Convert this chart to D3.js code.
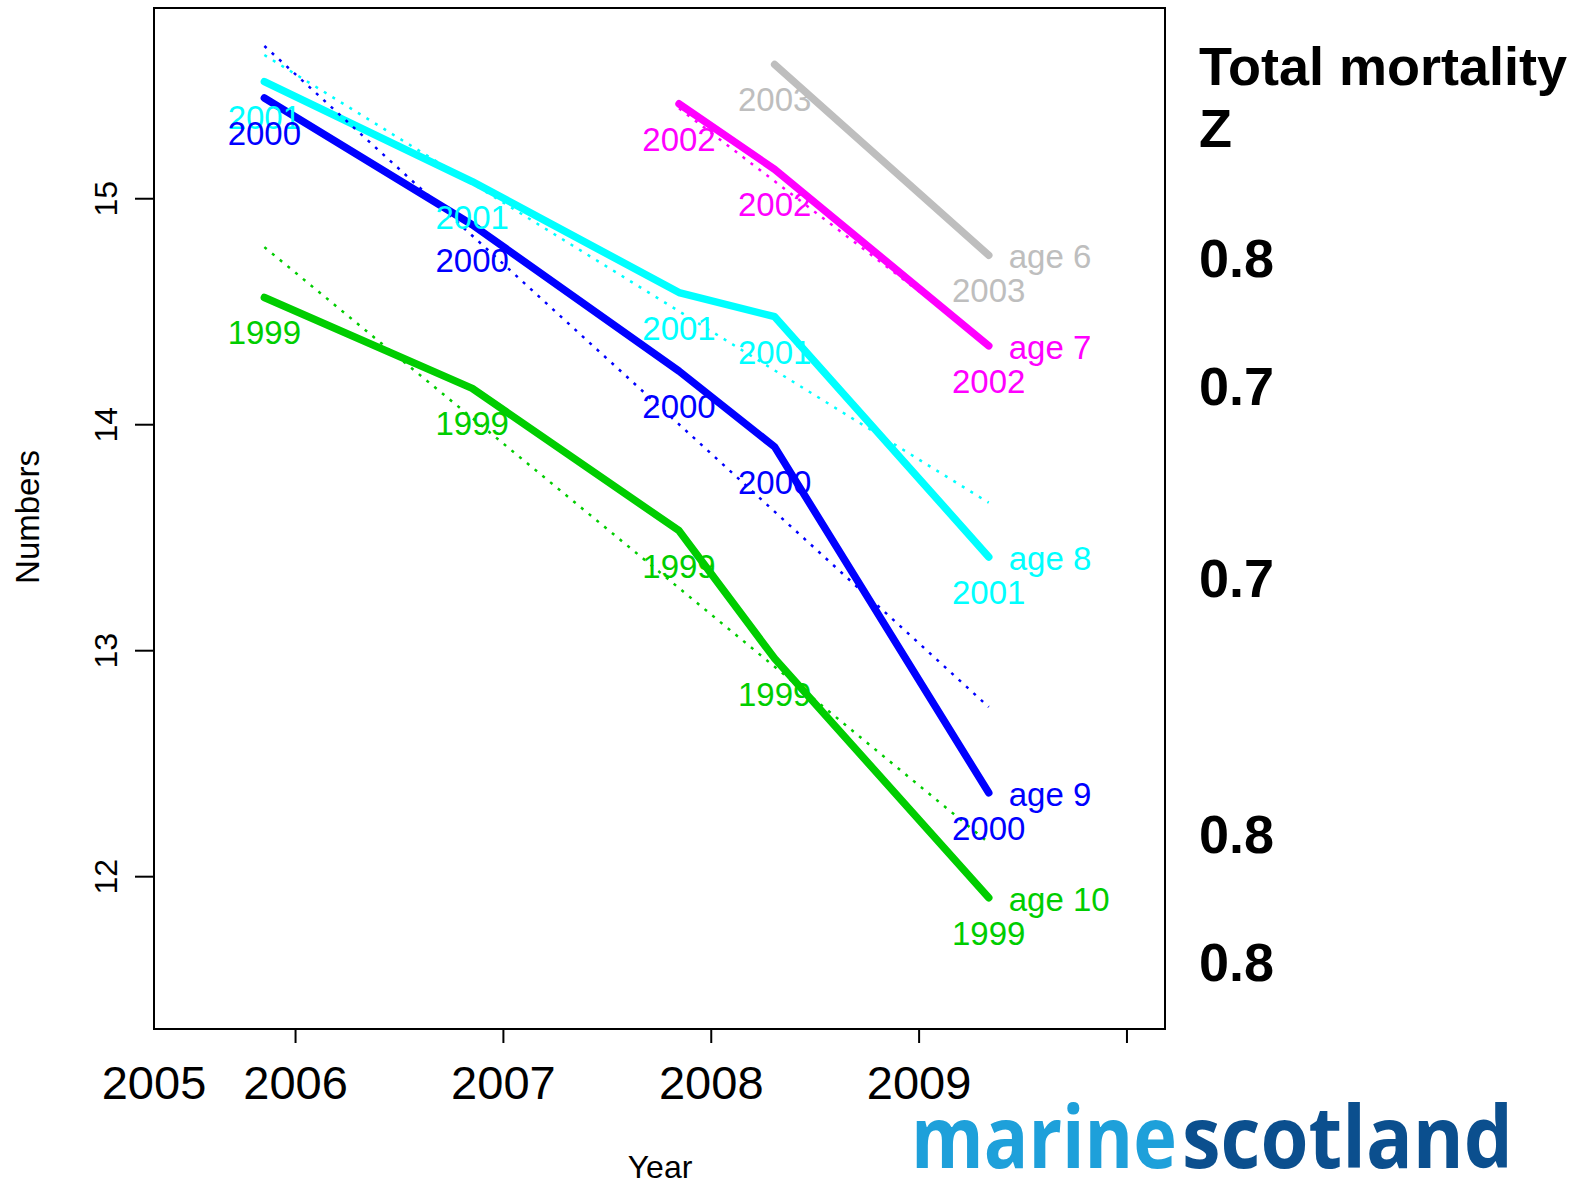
<!DOCTYPE html>
<html>
<head>
<meta charset="utf-8">
<script src="https://cdn.jsdelivr.net/npm/d3@7"></script>
<style>
  body { margin: 0; background: #fff; }
  svg text { font-family: "Liberation Sans", Arial, sans-serif; }
</style>
</head>
<body>
<div id="vis"></div>
<script>
// Datos ------------------------------------------------------------------------------------------
const ages = ["age 6", "age 7", "age 8", "age 9", "age 10"];
const cohorts = ["2003", "2002", "2001", "2000", "1999"];
const colores = ["#bebebe", "#ff00ff", "#00ffff", "#0000ff", "#00cd00"];

// fecha de cada muestreo (años decimales)
const anios = [2005.85, 2006.85, 2007.845, 2008.305, 2009.335];

// log numbers por edad (null = sin dato)
const age6 = [null, null, null, 15.594, 14.750];
const age7 = [null, null, 15.420, 15.130, 14.349];
const age8 = [15.518, 15.076, 14.585, 14.478, 13.415];
const age9 = [15.446, 14.885, 14.237, 13.902, 12.371];
const age10 = [14.563, 14.161, 13.531, 12.965, 11.907];

// recta ajustada (inicio, fin) para cada edad
const fit6 = [15.594, 14.750];
const fit7 = [15.40, 14.355];
const fit8 = [15.636, 13.655];
const fit9 = [15.676, 12.751];
const fit10 = [14.786, 12.150];

const zValores = ["0.8", "0.7", "0.7", "0.8", "0.8"];
const yTicks = [12, 13, 14, 15];
const xTicks = [2006, 2007, 2008, 2009, 2010];
const xLabels = ["2005", "2006", "2007", "2008", "2009"];

// Dimensiones ------------------------------------------------------------------------------------
const WIDTH = 1582;
const HEIGHT = 1183;
const M = { left: 154, right: 1165, top: 8, bottom: 1029 };

const SVG = d3.select("#vis").append("svg")
    .attr("width", WIDTH).attr("height", HEIGHT);

const x = d3.scaleLinear().domain([2005.319, 2010.183]).range([M.left, M.right]);
const y = d3.scaleLinear().domain([11.326, 15.844]).range([M.bottom, M.top]);

const series = [age6, age7, age8, age9, age10];
const fits = [fit6, fit7, fit8, fit9, fit10];

// Ejes -------------------------------------------------------------------------------------------
SVG.append("rect")
    .attr("x", M.left).attr("y", M.top)
    .attr("width", M.right - M.left).attr("height", M.bottom - M.top)
    .attr("fill", "none").attr("stroke", "#000").attr("stroke-width", 2);

SVG.selectAll("line.ytick")
    .data(yTicks)
    .enter()
    .append("line")
    .attr("class", "ytick")
    .attr("x1", M.left - 19).attr("x2", M.left)
    .attr("y1", d => y(d)).attr("y2", d => y(d))
    .attr("stroke", "#000").attr("stroke-width", 2);

SVG.selectAll("text.ylab")
    .data(yTicks)
    .enter()
    .append("text")
    .attr("class", "ylab")
    .attr("transform", d => `translate(117, ${y(d)}) rotate(-90)`)
    .attr("text-anchor", "middle")
    .attr("font-size", 32)
    .text(d => d);

SVG.selectAll("line.xtick")
    .data(xTicks)
    .enter()
    .append("line")
    .attr("class", "xtick")
    .attr("x1", d => x(d)).attr("x2", d => x(d))
    .attr("y1", M.bottom).attr("y2", M.bottom + 14)
    .attr("stroke", "#000").attr("stroke-width", 2);

SVG.selectAll("text.xlab")
    .data(xLabels)
    .enter()
    .append("text")
    .attr("class", "xlab")
    .attr("x", d => Math.max(x(+d), M.left))
    .attr("y", 1099)
    .attr("text-anchor", "middle")
    .attr("font-size", 47)
    .text(d => d);

SVG.append("text")
    .attr("x", 660).attr("y", 1178)
    .attr("text-anchor", "middle")
    .attr("font-size", 32)
    .text("Year");

SVG.append("text")
    .attr("transform", "translate(39, 517) rotate(-90)")
    .attr("text-anchor", "middle")
    .attr("font-size", 33)
    .text("Numbers");

// Lineas -----------------------------------------------------------------------------------------
const linea = d3.line()
    .defined(d => d.v !== null)
    .x(d => x(d.t))
    .y(d => y(d.v));

const puntos = series.map(s => s.map((v, i) => ({ t: anios[i], v: v })));

SVG.selectAll("path.edad")
    .data(puntos)
    .enter()
    .append("path")
    .attr("class", "edad")
    .attr("d", linea)
    .attr("fill", "none")
    .attr("stroke", (d, i) => colores[i])
    .attr("stroke-width", 7.5)
    .attr("stroke-linecap", "round")
    .attr("stroke-linejoin", "round");

// rectas ajustadas (punteadas)
SVG.selectAll("line.ajuste")
    .data(fits)
    .enter()
    .append("line")
    .attr("class", "ajuste")
    .attr("x1", (d, i) => x(puntos[i].find(p => p.v !== null).t))
    .attr("x2", x(anios[anios.length - 1]))
    .attr("y1", d => y(d[0]))
    .attr("y2", d => y(d[1]))
    .attr("stroke", (d, i) => colores[i])
    .attr("stroke-width", 2.5)
    .attr("stroke-dasharray", "3,7");

// etiquetas de cohorte bajo cada punto
puntos.forEach((s, i) => {
    SVG.selectAll(null)
        .data(s.filter(p => p.v !== null))
        .enter()
        .append("text")
        .attr("x", d => x(d.t))
        .attr("y", d => y(d.v) + 47)
        .attr("text-anchor", "middle")
        .attr("font-size", 33)
        .attr("fill", colores[i])
        .text(cohorts[i]);

    const ult = s[s.length - 1];
    SVG.append("text")
        .attr("x", x(ult.t) + 20)
        .attr("y", y(ult.v) + 13)
        .attr("font-size", 33)
        .attr("fill", colores[i])
        .text(ages[i]);
});

// Mortalidad total Z -----------------------------------------------------------------------------
const zBase = [277, 405, 597, 853, 981];
SVG.append("text").attr("x", 1199).attr("y", 85)
    .attr("font-size", 54).attr("font-weight", "bold").text("Total mortality");
SVG.append("text").attr("x", 1199).attr("y", 147)
    .attr("font-size", 54).attr("font-weight", "bold").text("Z");
SVG.selectAll("text.z")
    .data(zValores)
    .enter()
    .append("text")
    .attr("class", "z")
    .attr("x", 1199)
    .attr("y", (d, i) => zBase[i])
    .attr("font-size", 54)
    .attr("font-weight", "bold")
    .text(d => d);

// Logo -------------------------------------------------------------------------------------------
SVG.append("text")
    .attr("x", 911).attr("y", 1168)
    .style("font-family", "'Open Sans', sans-serif")
    .attr("font-weight", "bold").attr("font-size", 86)
    .attr("textLength", 266).attr("lengthAdjust", "spacingAndGlyphs")
    .attr("fill", "#1ea0da")
    .text("marine");
SVG.append("text")
    .attr("x", 1182).attr("y", 1168)
    .style("font-family", "'Open Sans', sans-serif")
    .attr("font-weight", "bold").attr("font-size", 86)
    .attr("textLength", 331).attr("lengthAdjust", "spacingAndGlyphs")
    .attr("fill", "#0b4f8e")
    .text("scotland");
</script>
</body>
</html>
